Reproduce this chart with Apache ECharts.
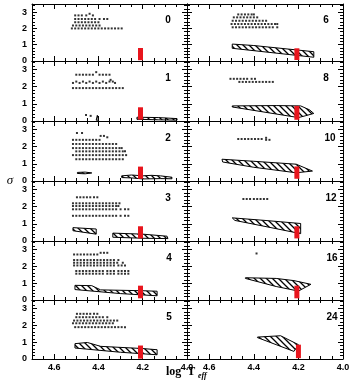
<!DOCTYPE html>
<html><head><meta charset="utf-8">
<script src="https://cdn.jsdelivr.net/npm/echarts@6/dist/echarts.min.js"></script>
<style>html,body{margin:0;padding:0;background:#fff}#c{width:357px;height:387px}</style>
</head><body><div id="c"></div>
<script>
// Panel labels (left column 0-5, right column 6..24)
const panelLabels = ['0','1','2','3','4','5','6','8','10','12','16','24'];
const xLabelTicks = [4.6, 4.4, 4.2, 4.0];
const yLabelTicks = [0, 1, 2, 3];

// Dot clouds: rows of [sigma, [logTeff values]]
const dots0 = [[2.9,[4.44]],[2.8,[4.505,4.49,4.475,4.455,4.425]],
 [2.58,[4.505,4.49,4.475,4.46,4.445,4.43,4.415,4.395,4.375,4.36]],
 [2.38,[4.505,4.49,4.475,4.46,4.445,4.43,4.415,4.40]],
 [2.18,[4.515,4.50,4.485,4.47,4.455,4.44,4.425,4.41,4.395]],
 [2.0,[4.52,4.505,4.49,4.475,4.46,4.445,4.43,4.415,4.40,4.385,4.37,4.355,4.34,4.325,4.31,4.295]]];
const dots1 = [[2.85,[4.41]],[2.7,[4.50,4.485,4.47,4.455,4.44,4.425,4.395,4.38,4.365,4.35]],
 [2.4,[4.345]],[2.3,[4.50,4.47,4.44,4.41,4.38,4.35,4.335]],
 [2.22,[4.515,4.485,4.455,4.425,4.395,4.365,4.325]],
 [1.92,[4.515,4.50,4.485,4.47,4.455,4.44,4.425,4.41,4.395,4.38,4.365,4.35,4.335,4.32,4.305,4.29]],
 [0.35,[4.456]],[0.3,[4.435]]];
const dots2 = [[2.8,[4.497,4.474]],[2.63,[4.39,4.375]],[2.55,[4.36]],
 [2.4,[4.515,4.50,4.485,4.47,4.455,4.44,4.425,4.41,4.395]],
 [2.16,[4.515,4.50,4.485,4.47,4.455,4.44,4.425,4.41,4.395,4.38,4.365,4.35,4.335,4.32]],
 [1.92,[4.515,4.50,4.485,4.47,4.455,4.44,4.425,4.41,4.395,4.38,4.365,4.35,4.335,4.32,4.305,4.295]],
 [1.73,[4.50,4.485,4.47,4.455,4.44,4.425,4.41,4.395,4.38,4.365,4.35,4.335,4.32,4.305,4.29,4.28]],
 [1.51,[4.515,4.50,4.485,4.47,4.455,4.44,4.425,4.41,4.395,4.38,4.365,4.35,4.335,4.32,4.305,4.29,4.275]],
 [1.27,[4.50,4.485,4.47,4.455,4.44,4.425,4.41,4.395,4.38,4.365,4.35,4.335,4.32,4.305,4.29]]];
const dots3 = [[2.55,[4.497,4.482,4.467,4.452,4.437,4.42,4.405]],
 [2.2,[4.515,4.50,4.485,4.47,4.455,4.44,4.425,4.41,4.395,4.38,4.365,4.35,4.335,4.32,4.305]],
 [2.04,[4.515,4.50,4.485,4.47,4.455,4.44,4.425,4.41,4.395,4.38,4.365,4.35,4.335,4.32,4.31]],
 [1.85,[4.515,4.50,4.485,4.47,4.455,4.44,4.425,4.41,4.395,4.38,4.365,4.35,4.335,4.32,4.30,4.28,4.265]],
 [1.47,[4.515,4.50,4.485,4.47,4.455,4.44,4.425,4.41,4.395,4.38,4.365,4.35,4.335,4.32,4.30,4.28,4.265]]];
const dots4 = [[2.8,[4.39,4.375,4.36]],[2.7,[4.51,4.495,4.48,4.465,4.45,4.435,4.42,4.405]],
 [2.37,[4.51,4.495,4.48,4.465,4.45,4.435,4.42,4.405,4.39,4.375,4.36,4.345,4.33,4.31]],
 [2.21,[4.51,4.495,4.48,4.465,4.45,4.435,4.42,4.405,4.39,4.375,4.36,4.345,4.33,4.315,4.29]],
 [2.05,[4.51,4.495,4.48,4.465,4.45,4.435,4.42,4.405,4.39,4.375,4.36,4.345,4.33,4.31,4.295,4.28]],
 [1.72,[4.50,4.485,4.47,4.455,4.44,4.425,4.41,4.395,4.38,4.36,4.345,4.33,4.31,4.295,4.28,4.265]],
 [1.56,[4.50,4.485,4.47,4.455,4.44,4.425,4.41,4.395,4.38,4.36,4.345,4.33,4.31,4.295,4.28,4.265]]];
const dots5 = [[2.68,[4.497,4.482,4.467,4.452,4.437,4.42,4.405]],
 [2.48,[4.50,4.485,4.47,4.455,4.44,4.425,4.41,4.395,4.38,4.36]],
 [2.28,[4.51,4.495,4.48,4.465,4.45,4.435,4.42,4.405,4.39,4.375,4.36,4.345,4.33,4.315]],
 [2.12,[4.515,4.50,4.485,4.47,4.455,4.44,4.425,4.41,4.395,4.38,4.365,4.35,4.335]],
 [1.89,[4.505,4.49,4.475,4.46,4.445,4.43,4.415,4.40,4.385,4.37,4.355,4.34,4.325,4.31,4.295,4.28]]];
const dots6 = [[2.86,[4.47,4.455,4.44,4.425,4.41,4.40]],
 [2.68,[4.49,4.475,4.46,4.445,4.43,4.415,4.40,4.385]],
 [2.47,[4.495,4.48,4.465,4.45,4.435,4.42,4.405,4.39,4.375,4.36,4.345]],
 [2.27,[4.50,4.485,4.47,4.455,4.44,4.425,4.41,4.395,4.38,4.365,4.35,4.335,4.32,4.305,4.295]],
 [2.07,[4.495,4.48,4.465,4.45,4.435,4.42,4.405,4.39,4.375,4.36,4.345,4.33,4.315,4.295]]];
const dots8 = [[2.46,[4.505,4.49,4.475,4.46,4.445,4.43,4.41,4.395]],
 [2.28,[4.465,4.45,4.435,4.42,4.405,4.39,4.375,4.36,4.345,4.33,4.315]]];
const dots10 = [[2.45,[4.47,4.455,4.44,4.425,4.41,4.395,4.38,4.365]],[2.52,[4.345]],[2.4,[4.345,4.33]]];
const dots12 = [[2.45,[4.447,4.432,4.417,4.40,4.385,4.37,4.355,4.34]]];
const dots16 = [[2.76,[4.388]]];
const dots24 = [];

// Hatched regions: polygons of [logTeff, sigma] vertices
const hatch0 = [];
const hatch1 = [[[4.226,0.22],[4.13,0.2],[4.045,0.14],[4.045,0.05],[4.13,0.07],[4.226,0.1]],
 [[4.41,0.05],[4.405,0.33],[4.40,0.05]]];
const hatch2 = [[[4.495,0.5],[4.46,0.52],[4.43,0.47],[4.46,0.42],[4.495,0.44]],
 [[4.295,0.3],[4.25,0.35],[4.2,0.3],[4.16,0.33],[4.12,0.3],[4.068,0.22],[4.068,0.13],[4.12,0.14],[4.2,0.12],[4.25,0.18],[4.295,0.2]]];
const hatch3 = [[[4.515,0.78],[4.41,0.7],[4.41,0.4],[4.515,0.6]],
 [[4.335,0.46],[4.2,0.4],[4.09,0.28],[4.086,0.14],[4.2,0.16],[4.335,0.22]]];
const hatch4 = [[[4.506,0.87],[4.43,0.85],[4.39,0.6],[4.2,0.55],[4.135,0.52],[4.135,0.25],[4.3,0.38],[4.506,0.62]]];
const hatch5 = [[[4.506,0.91],[4.45,0.98],[4.39,0.75],[4.2,0.62],[4.135,0.55],[4.135,0.25],[4.3,0.4],[4.506,0.65]]];
const hatch6 = [[[4.497,1.04],[4.4,0.95],[4.131,0.57],[4.131,0.23],[4.497,0.78]]];
const hatch8 = [[[4.497,0.88],[4.3,0.9],[4.19,0.88],[4.15,0.65],[4.131,0.44],[4.17,0.3],[4.2,0.2],[4.497,0.82]]];
const hatch10 = [[[4.543,1.27],[4.4,1.15],[4.21,0.98],[4.137,0.58],[4.21,0.48],[4.4,0.8],[4.54,1.11]]];
const hatch12 = [[[4.497,1.35],[4.35,1.2],[4.19,1.02],[4.19,0.43],[4.35,0.85],[4.485,1.2]]];
const hatch16 = [[[4.438,1.32],[4.3,1.28],[4.22,1.15],[4.144,0.93],[4.2,0.53],[4.3,0.8],[4.438,1.28]]];
const hatch24 = [[[4.384,1.3],[4.28,1.38],[4.2,0.85],[4.22,0.45],[4.3,0.85],[4.384,1.27]]];

// Red bars: [logTeff, sigma low, sigma high]
const red0=[4.21,0.05,0.8], red1=[4.21,0.08,0.8], red2=[4.21,0.13,0.84], red3=[4.21,0.15,0.86],
      red4=[4.21,0.1,0.85], red5=[4.21,0.02,0.8], red6=[4.207,0.06,0.78], red8=[4.207,0.07,0.88],
      red10=[4.207,0.13,0.85], red12=[4.207,0.15,0.86], red16=[4.207,0.1,0.85], red24=[4.2,0.05,0.85];

const allDots = [dots0,dots1,dots2,dots3,dots4,dots5,dots6,dots8,dots10,dots12,dots16,dots24];
const allHatch = [hatch0,hatch1,hatch2,hatch3,hatch4,hatch5,hatch6,hatch8,hatch10,hatch12,hatch16,hatch24];
const allRed = [red0,red1,red2,red3,red4,red5,red6,red8,red10,red12,red16,red24];

// layout
const tops = [4,61,121,181,241,300];
const bots = [61,121,181,241,300,359];
const labelX = [168,168,168,168,169,169,326,326,330,331,332,332];

function makePattern(){
  const s=6, c=document.createElement('canvas'); c.width=s; c.height=s;
  const g=c.getContext('2d'); g.strokeStyle='#000'; g.lineWidth=1.3;
  g.beginPath(); g.moveTo(-1,-1); g.lineTo(s+1,s+1);
  g.moveTo(-1,s-1); g.lineTo(1,s+1); g.moveTo(s-1,-1); g.lineTo(s+1,1); g.stroke();
  return c;
}
const pattern = {image: makePattern(), repeat: 'repeat'};

const fmtX = v => (Math.abs(v*5-Math.round(v*5))<1e-6 && xLabelTicks.some(t=>Math.abs(t-v)<1e-6)) ? v.toFixed(1) : '';
const fmtY = v => (yLabelTicks.some(t=>Math.abs(t-v)<1e-6)) ? String(Math.round(v)) : '';
const numFont = {fontFamily:'"Liberation Sans", Arial, sans-serif', fontWeight:'bold', fontSize:9, color:'#000'};

const grids=[], xAxes=[], yAxes=[], series=[], graphics=[];
for (let i=0;i<12;i++){
  const col = i<6?0:1, row = i%6;
  grids.push({left: col?187:32, top: tops[row], width: col?156:155, height: bots[row]-tops[row]});
  const axBase = {
    axisLine:{show:true, onZero:false, lineStyle:{color:'#000', width:1}},
    axisTick:{show:true, inside:true, length:5, lineStyle:{color:'#000', width:1}},
    minorTick:{show:true, length:3, lineStyle:{color:'#000', width:1}},
    splitLine:{show:false}, minorSplitLine:{show:false}
  };
  const xb = {type:'value', gridIndex:i, min:4.0, max:4.7, interval:0.2, inverse:true};
  xAxes.push(Object.assign({}, xb, JSON.parse(JSON.stringify(axBase)), {position:'bottom',
    axisLabel:Object.assign({show: row===5, formatter: fmtX, margin:4}, numFont)}));
  xAxes[xAxes.length-1].minorTick.splitNumber = 4;
  xAxes.push(Object.assign({}, xb, JSON.parse(JSON.stringify(axBase)), {position:'top', axisLabel:{show:false}}));
  xAxes[xAxes.length-1].minorTick.splitNumber = 4;
  const yb = {type:'value', gridIndex:i, min:0, max:3.5, interval:1};
  yAxes.push(Object.assign({}, yb, JSON.parse(JSON.stringify(axBase)), {position:'left',
    axisLabel:Object.assign({show: col===0, formatter: fmtY, margin:5}, numFont)}));
  yAxes[yAxes.length-1].minorTick.splitNumber = 5;
  yAxes.push(Object.assign({}, yb, JSON.parse(JSON.stringify(axBase)), {position:'right', axisLabel:{show:false}}));
  yAxes[yAxes.length-1].minorTick.splitNumber = 5;

  const pts = [];
  allDots[i].forEach(r => r[1].forEach(t => pts.push([t, r[0]])));
  series.push({type:'scatter', xAxisIndex:2*i, yAxisIndex:2*i, data:pts, symbol:'rect', symbolSize:2,
    itemStyle:{color:'#000'}, silent:true, z:2});

  const polys = allHatch[i];
  if (polys.length){
    series.push({type:'custom', xAxisIndex:2*i, yAxisIndex:2*i, silent:true, z:3,
      data: polys.map(p => p[0]),
      renderItem: (params, api) => {
        const poly = polys[params.dataIndex];
        return {type:'polygon', shape:{points: poly.map(p => api.coord(p))},
          style:{fill: pattern, stroke:'#000', lineWidth:1}};
      }});
  }
  series.push({type:'custom', xAxisIndex:2*i, yAxisIndex:2*i, silent:true, z:4,
    data:[allRed[i]], encode:{x:0, y:[1,2]},
    renderItem: (params, api) => {
      const a = api.coord([api.value(0), api.value(2)]), b = api.coord([api.value(0), api.value(1)]);
      return {type:'rect', shape:{x:a[0]-2.5, y:a[1], width:5, height:b[1]-a[1]}, style:{fill:'#e8151d'}};
    }});

  graphics.push({type:'text', x: labelX[i], y: tops[row] + (row===0?16:17),
    style:{text: panelLabels[i], fill:'#000', font:'bold 10px "Liberation Sans", Arial, sans-serif',
      align:'center', verticalAlign:'middle', textAlign:'center', textVerticalAlign:'middle'}});
}
graphics.push({type:'text', x:166, y:372, style:{text:'log  T', fill:'#000',
  font:'bold 12px "Liberation Serif", serif', align:'left', verticalAlign:'middle', textAlign:'left', textVerticalAlign:'middle'}});
graphics.push({type:'text', x:198, y:376, style:{text:'eff', fill:'#000',
  font:'italic bold 8px "Liberation Serif", serif', align:'left', verticalAlign:'middle', textAlign:'left', textVerticalAlign:'middle'}});
graphics.push({type:'text', x:10, y:181, style:{text:'σ', fill:'#000',
  font:'italic 13px "Liberation Serif", serif', align:'center', verticalAlign:'middle', textAlign:'center', textVerticalAlign:'middle'}});

const chart = echarts.init(document.getElementById('c'));
chart.setOption({animation:false, grid:grids, xAxis:xAxes, yAxis:yAxes, series:series, graphic:graphics});
</script></body></html>
